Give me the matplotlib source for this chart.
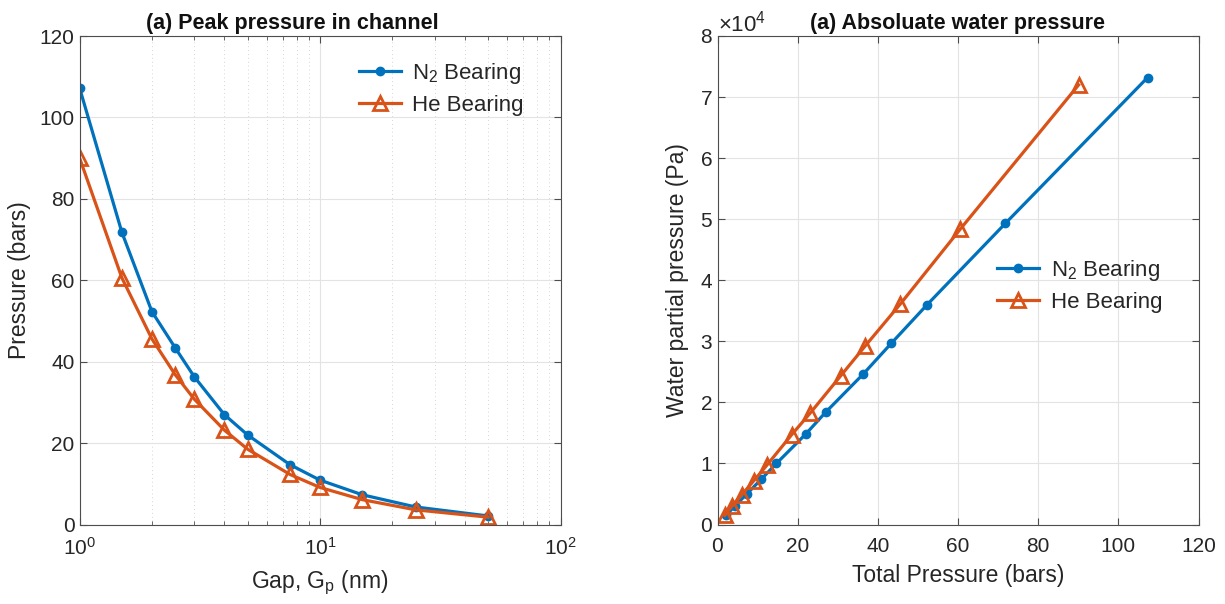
import matplotlib
matplotlib.use("Agg")
import matplotlib.pyplot as plt
from matplotlib.ticker import ScalarFormatter, LogLocator

plt.rcParams['font.family'] = ['Liberation Sans', 'DejaVu Sans']
plt.rcParams['mathtext.fontset'] = 'custom'
plt.rcParams['mathtext.rm'] = 'Liberation Sans'
plt.rcParams['mathtext.it'] = 'Liberation Sans'

# ---- data ----
gap_nm = [1, 1.5, 2, 2.5, 3, 4, 5, 7.5, 10, 15, 25, 50]
n2_peak = [107.3, 71.8, 52.3, 43.4, 36.3, 27.0, 22.0, 14.7, 10.9, 7.3, 4.3, 2.1]
he_peak = [90.1, 60.6, 45.6, 36.8, 30.8, 23.2, 18.5, 12.3, 9.1, 6.1, 3.6, 1.8]

n2_water = [73200, 49300, 36000, 29700, 24600, 18400, 14800, 10000, 7400, 5000, 3000, 1500]
he_water = [72000, 48400, 36100, 29200, 24400, 18300, 14700, 9700, 7200, 4900, 3000, 1500]

left_title = "(a) Peak pressure in channel"
right_title = "(a) Absoluate water pressure"
n2_label = "N$_2$ Bearing"
he_label = "He Bearing"

blue = "#0072BD"
orange = "#D95319"
txt = "#262626"
gridc = "#e3e3e3"

fig = plt.figure(figsize=(12.25, 6.04), dpi=100)
H = 604
W = 1225
def rect(l, r, t, b):
    return [l / W, 1 - b / H, (r - l) / W, (b - t) / H]

ax1 = fig.add_axes(rect(79.5, 560.5, 36, 524.5))
ax2 = fig.add_axes(rect(717.5, 1198.5, 36, 524.5))

fs_tick = 15
fs_lab = 16.5
fs_title = 15.5
fs_leg = 16

def style(ax):
    for s in ax.spines.values():
        s.set_color("#4d4d4d")
        s.set_linewidth(0.8)
    ax.tick_params(which='both', direction='in', top=True, right=True,
                   colors="#4d4d4d", labelcolor=txt, labelsize=fs_tick)
    ax.tick_params(which='major', length=5)
    ax.tick_params(which='minor', length=3)
    ax.set_axisbelow(True)

# ---- left ----
ax1.plot(gap_nm, n2_peak, color=blue, lw=2.3, marker='o', ms=6, label=n2_label)
ax1.plot(gap_nm, he_peak, color=orange, lw=2.3, marker='^', ms=9.5, mfc='none',
         mew=2, label=he_label)
ax1.set_xscale('log')
ax1.set_xlim(1, 100)
ax1.set_ylim(0, 120)
ax1.set_yticks([0, 20, 40, 60, 80, 100, 120])
ax1.xaxis.set_major_locator(LogLocator(base=10, numticks=10))
ax1.xaxis.set_minor_locator(LogLocator(base=10, subs=range(2, 10), numticks=20))
ax1.grid(True, which='major', color=gridc, lw=0.8)
ax1.grid(True, which='minor', axis='x', color="#d6d6d6", lw=0.7, ls=(0, (1, 3)))
style(ax1)
ax1.tick_params(axis='x', which='major', pad=9)
ax1.set_title(left_title, fontsize=fs_title, fontweight='bold', color="#111111",
              pad=5, x=0.442)
ax1.set_xlabel("Gap, G$_\\mathrm{p}$ (nm)", fontsize=fs_lab, color=txt, labelpad=7)
ax1.set_ylabel("Pressure (bars)", fontsize=fs_lab, color=txt, labelpad=6)
leg1 = ax1.legend(loc='upper right', bbox_to_anchor=(0.965, 0.99), frameon=False,
                  fontsize=fs_leg, handlelength=1.9, handletextpad=0.5, labelspacing=0.4)
for t in leg1.get_texts():
    t.set_color(txt)

# ---- right ----
ax2.plot(n2_peak, n2_water, color=blue, lw=2.3, marker='o', ms=6, label=n2_label)
ax2.plot(he_peak, he_water, color=orange, lw=2.3, marker='^', ms=9.5, mfc='none',
         mew=2, label=he_label)
ax2.set_xlim(0, 120)
ax2.set_ylim(0, 80000)
ax2.set_xticks([0, 20, 40, 60, 80, 100, 120])
ax2.set_yticks([0, 10000, 20000, 30000, 40000, 50000, 60000, 70000, 80000])
fmt = ScalarFormatter(useMathText=True)
fmt.set_powerlimits((0, 0))
ax2.yaxis.set_major_formatter(fmt)
ax2.grid(True, which='major', color=gridc, lw=0.8)
style(ax2)
ax2.tick_params(axis='x', which='major', pad=9)
ax2.yaxis.get_offset_text().set_fontsize(16)
ax2.yaxis.get_offset_text().set_color(txt)
ax2.set_title(right_title, fontsize=fs_title, fontweight='bold', color="#111111", pad=5)
ax2.set_xlabel("Total Pressure (bars)", fontsize=fs_lab, color=txt, labelpad=6)
ax2.set_ylabel("Water partial pressure (Pa)", fontsize=fs_lab, color=txt, labelpad=8)
leg2 = ax2.legend(loc='center left', bbox_to_anchor=(0.54, 0.49), frameon=False,
                  fontsize=fs_leg, handlelength=1.9, handletextpad=0.5, labelspacing=0.4)
for t in leg2.get_texts():
    t.set_color(txt)

fig.savefig("out.png", dpi=100)
